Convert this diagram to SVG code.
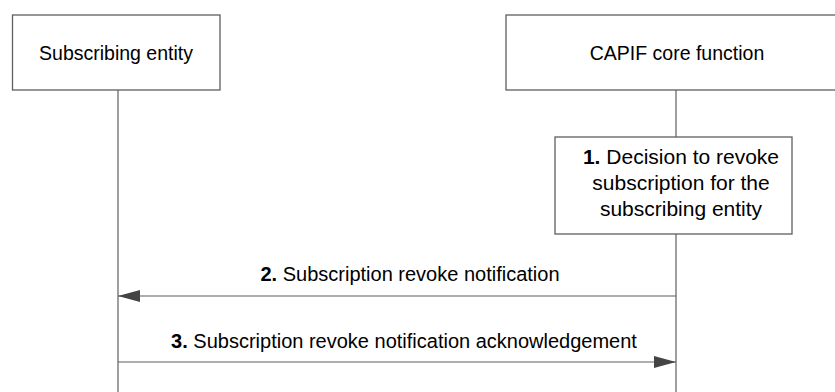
<svg xmlns="http://www.w3.org/2000/svg" width="835" height="392" viewBox="0 0 835 392">
<defs>
<style>
.box{fill:#fff;stroke:#5f5f5f;stroke-width:1.3}
.life{stroke:#5f5f5f;stroke-width:1.2;fill:none}
.msg{stroke:#5f5f5f;stroke-width:1.2;fill:none}
text{font-family:"Liberation Sans",Arial,sans-serif;font-size:20px;fill:#000;text-anchor:middle}
.t{font-size:19.5px}
.b{font-size:21px}
.n{font-weight:bold}
</style>
<marker id="ah" viewBox="0 0 22 12" refX="22" refY="6" markerWidth="22" markerHeight="12" markerUnits="userSpaceOnUse" orient="auto">
<path d="M0,0 L22,6 L0,12 Z" fill="#444"/>
</marker>
</defs>
<g id="connectors">
<line class="life" x1="118" y1="90" x2="118" y2="392"/>
<line class="life" x1="676" y1="90" x2="676" y2="137"/>
<line class="life" x1="676" y1="234" x2="676" y2="392"/>
<line class="msg" x1="676" y1="296" x2="118" y2="296" marker-end="url(#ah)"/>
<line class="msg" x1="118" y1="362" x2="676" y2="362" marker-end="url(#ah)"/>
<text x="410" y="281"><tspan class="n">2.</tspan> Subscription revoke notification</text>
<text x="404" y="348"><tspan class="n">3.</tspan> Subscription revoke notification acknowledgement</text>
</g>
<g id="subscribing-entity">
<rect class="box" x="12.5" y="15" width="207.5" height="75"/>
<text class="t" x="116" y="60">Subscribing entity</text>
</g>
<g id="capif-core-function">
<rect class="box" x="506" y="15" width="340" height="75"/>
<text class="t" x="677" y="60">CAPIF core function</text>
</g>
<g id="step1">
<rect class="box" x="555" y="137" width="237" height="97"/>
<text class="b" x="681" y="164"><tspan class="n">1.</tspan> Decision to revoke</text>
<text class="b" x="681" y="190">subscription for the</text>
<text class="b" x="681" y="216">subscribing entity</text>
</g>
</svg>
